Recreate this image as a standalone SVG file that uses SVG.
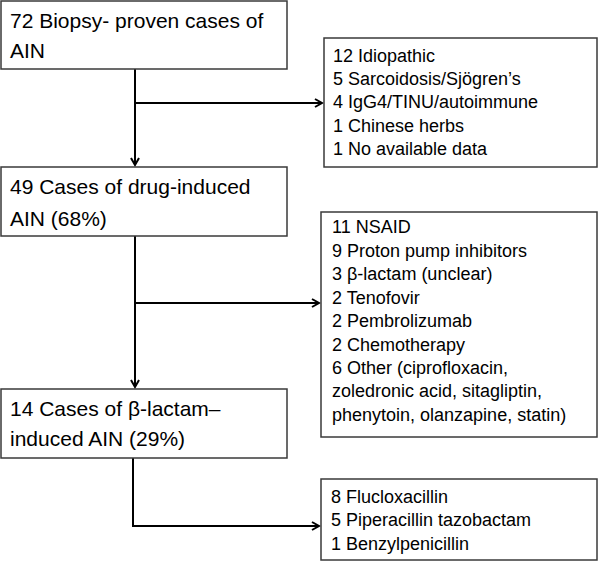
<svg xmlns="http://www.w3.org/2000/svg" width="598" height="561" viewBox="0 0 598 561">
<style>
.box{fill:#fff;stroke:#3a3a3a;stroke-width:1.5}
.t{font-family:"Liberation Sans",Arial,sans-serif;font-size:18px;fill:#000}
.L{font-size:21px}
.c{fill:none;stroke:#000;stroke-width:2}
</style>
<defs>
<marker id="ah" markerWidth="10" markerHeight="10" refX="8" refY="5" orient="auto" markerUnits="userSpaceOnUse">
<path d="M1,1 L8,5 L1,9" fill="none" stroke="#000" stroke-width="2"/>
</marker>
</defs>
<g id="connectors">
<path class="c" d="M135,69 V165" marker-end="url(#ah)"/>
<path class="c" d="M135,103 H322" marker-end="url(#ah)"/>
<path class="c" d="M135,236 V387" marker-end="url(#ah)"/>
<path class="c" d="M135,303 H319" marker-end="url(#ah)"/>
<path class="c" d="M133,458 V526 H319" marker-end="url(#ah)"/>
</g>
<g id="n1">
<rect class="box" x="1" y="1" width="286" height="68"/>
<text class="t L" x="10" y="28">72 Biopsy- proven cases of</text>
<text class="t L" x="10" y="58">AIN</text>
</g>
<g id="n2">
<rect class="box" x="1" y="167" width="286" height="69"/>
<text class="t L" x="10" y="194">49 Cases of drug-induced</text>
<text class="t L" x="10" y="226">AIN (68%)</text>
</g>
<g id="n3">
<rect class="box" x="1" y="389" width="286" height="69"/>
<text class="t L" x="10" y="416">14 Cases of β-lactam–</text>
<text class="t L" x="10" y="446">induced AIN (29%)</text>
</g>
<g id="r1">
<rect class="box" x="324" y="38" width="273" height="129"/>
<text class="t" x="333" y="62">12 Idiopathic</text>
<text class="t" x="333" y="85">5 Sarcoidosis/Sjögren’s</text>
<text class="t" x="333" y="108">4 IgG4/TINU/autoimmune</text>
<text class="t" x="333" y="132">1 Chinese herbs</text>
<text class="t" x="333" y="155">1 No available data</text>
</g>
<g id="r2">
<rect class="box" x="321" y="212" width="276" height="225"/>
<text class="t" x="332" y="233">11 NSAID</text>
<text class="t" x="332" y="257">9 Proton pump inhibitors</text>
<text class="t" x="332" y="280">3 β-lactam (unclear)</text>
<text class="t" x="332" y="304">2 Tenofovir</text>
<text class="t" x="332" y="327">2 Pembrolizumab</text>
<text class="t" x="332" y="351">2 Chemotherapy</text>
<text class="t" x="332" y="374">6 Other (ciprofloxacin,</text>
<text class="t" x="332" y="397">zoledronic acid, sitagliptin,</text>
<text class="t" x="332" y="421">phenytoin, olanzapine, statin)</text>
</g>
<g id="r3">
<rect class="box" x="321" y="479" width="276" height="81"/>
<text class="t" x="331" y="503">8 Flucloxacillin</text>
<text class="t" x="331" y="526">5 Piperacillin tazobactam</text>
<text class="t" x="331" y="550">1 Benzylpenicillin</text>
</g>
</svg>
